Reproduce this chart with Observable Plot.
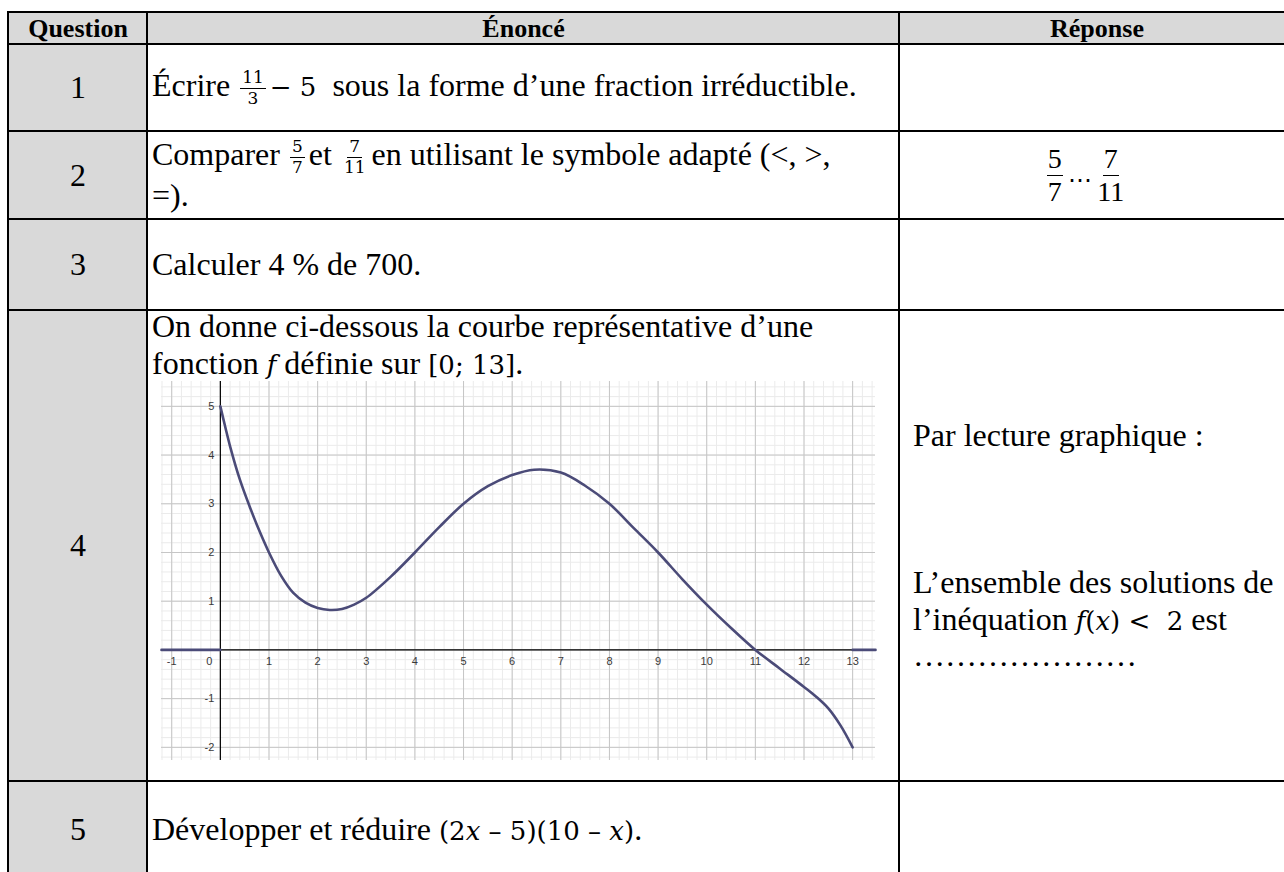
<!DOCTYPE html>
<html><head><meta charset="utf-8">
<script src="https://cdn.jsdelivr.net/npm/d3@7"></script>
<script src="https://cdn.jsdelivr.net/npm/@observablehq/plot@0.6"></script>
<style>
html,body{margin:0;padding:0;background:#fff;}
#page{position:relative;width:1284px;height:872px;overflow:hidden;font-family:"Liberation Serif","Times New Roman",serif;color:#000;}
.hl{position:absolute;height:2px;background:#000;left:7px;width:1300px;}
.vl{position:absolute;width:2px;background:#000;top:11px;height:900px;}
.bg{position:absolute;background:#d9d9d9;}
.cell{position:absolute;display:flex;align-items:center;font-size:32px;line-height:1.15;white-space:nowrap;}
.hdr{font-weight:bold;font-size:26px;justify-content:center;line-height:1;}
.ctr{justify-content:center;}
.frac{display:inline-flex;flex-direction:column;align-items:center;vertical-align:middle;font-family:"DejaVu Serif",serif;font-size:17px;line-height:1.05;margin:0 4px 0 2px;}
.frac .n{padding:0 2px 1px;border-bottom:1.5px solid #000;}
.frac .d{padding:1px 2px 0;}
.frac2{display:inline-flex;flex-direction:column;align-items:center;vertical-align:middle;font-size:28px;line-height:1.05;}
.frac2 .n{padding:0 1px 1px;border-bottom:1.5px solid #000;}
.frac2 .d{padding:1px 1px 0;}
.m{font-family:"DejaVu Serif",serif;font-size:26px;}
.mi{font-family:"DejaVu Serif",serif;font-style:italic;font-size:26px;}
#chart{position:absolute;left:161px;top:381px;}
</style></head><body><div id="page">
<div class="bg" style="left:8px;top:12px;width:1300px;height:32px"></div>
<div class="bg" style="left:8px;top:44px;width:139px;height:840px"></div>

<div class="cell hdr" style="left:9px;top:13px;width:138px;height:31px">Question</div>
<div class="cell hdr" style="left:148px;top:13px;width:751px;height:31px">Énoncé</div>
<div class="cell hdr" style="left:900px;top:13px;width:394px;height:31px">Réponse</div>

<div class="cell ctr" style="left:9px;top:44px;width:138px;height:87px">1</div>
<div class="cell ctr" style="left:9px;top:131px;width:138px;height:88px">2</div>
<div class="cell ctr" style="left:9px;top:219px;width:138px;height:91px">3</div>
<div class="cell ctr" style="left:9px;top:310px;width:138px;height:471px">4</div>
<div class="cell ctr" style="left:9px;top:781px;width:138px;height:96px">5</div>

<div class="cell" style="left:152px;top:44px;width:745px;height:87px"><div>Écrire <span class="frac"><span class="n">11</span><span class="d">3</span></span><span class="m">−&nbsp;5</span>&nbsp;&nbsp;sous la forme d’une fraction irréductible.</div></div>
<div class="cell" style="left:152px;top:131px;width:745px;height:88px"><div>Comparer <span class="frac"><span class="n">5</span><span class="d">7</span></span>et <span class="frac"><span class="n">7</span><span class="d">11</span></span>en utilisant le symbole adapté (&lt;, &gt;,<br>=).</div></div>
<div class="cell" style="left:152px;top:219px;width:745px;height:91px"><div>Calculer 4 % de 700.</div></div>
<div class="cell" style="left:152px;top:308px;width:745px;height:74px;align-items:flex-start"><div>On donne ci-dessous la courbe représentative d’une<br>fonction <span class="mi">f</span> définie sur <span class="m">[0;&nbsp;13]</span>.</div></div>
<div class="cell" style="left:152px;top:781px;width:745px;height:96px"><div>Développer et réduire <span class="m">(2<span class="mi">x</span> – 5)(10 – <span class="mi">x</span>)</span>.</div></div>

<div class="cell ctr" style="left:900px;top:131px;width:372px;height:88px"><div><span class="frac2"><span class="n">5</span><span class="d">7</span></span><span style="font-size:24px;position:relative;top:6px">&thinsp;⋯&thinsp;</span><span class="frac2"><span class="n">7</span><span class="d">11</span></span></div></div>
<div class="cell" style="left:913px;top:310px;width:380px;height:471px"><div>Par lecture graphique :<br><br><br><br>L’ensemble des solutions de<br>l’inéquation <span class="mi">f</span><span class="m">(</span><span class="mi">x</span><span class="m">)&nbsp;&lt;&nbsp; 2</span> est<br>…………………</div></div>

<div class="hl" style="top:11px"></div>
<div class="hl" style="top:43px"></div>
<div class="hl" style="top:130px"></div>
<div class="hl" style="top:218px"></div>
<div class="hl" style="top:309px"></div>
<div class="hl" style="top:780px"></div>
<div class="vl" style="left:7px"></div>
<div class="vl" style="left:146px"></div>
<div class="vl" style="left:898px"></div>
<div id="chart"></div>
</div>
<script>
// Curve of f
const curveX = [0, 0.1, 0.2, 0.4, 0.6, 0.8, 1, 1.25, 1.5, 1.75, 2, 2.25, 2.5, 2.75, 3, 3.5, 4, 4.5, 5, 5.5, 6, 6.45, 7, 7.5, 8, 8.5, 9, 9.5, 10, 10.5, 11, 11.5, 12, 12.25, 12.5, 12.75, 13];
const curveY = [5, 4.58, 4.18, 3.5, 2.95, 2.45, 2, 1.52, 1.17, 0.97, 0.86, 0.82, 0.84, 0.93, 1.07, 1.5, 2, 2.52, 3, 3.36, 3.59, 3.7, 3.64, 3.37, 3, 2.5, 2, 1.45, 0.93, 0.45, 0, -0.38, -0.76, -0.96, -1.2, -1.55, -2];
// horizontal pieces at y = 0 outside [0; 13]
const leftStubX = [-1.21, 0];
const rightStubX = [13, 13.47];
const stubY = [0, 0];
// axis tick labels
const xTickLabels = [-1, 1, 2, 3, 4, 5, 6, 7, 8, 9, 10, 11, 12, 13];
const yTickLabels = [-2, -1, 1, 2, 3, 4, 5];
const originLabel = [0];

const xDomain = [-1.21, 13.47];
const yDomain = [-2.27, 5.51];
const majorX = d3.range(-1, 14, 1);
const majorY = d3.range(-2, 6, 1);
const minorX = d3.range(-1.2, 13.5, 0.2).map(v => +v.toFixed(1));
const minorY = d3.range(-2.2, 5.6, 0.2).map(v => +v.toFixed(1));

const curve = curveX.map((x, i) => ({x, y: curveY[i]}));
const leftStub = leftStubX.map((x, i) => ({x, y: stubY[i]}));
const rightStub = rightStubX.map((x, i) => ({x, y: stubY[i]}));
const lineColor = "#4b4b78";
const labelFont = "Liberation Sans, Arial, sans-serif";

const chart = Plot.plot({
  width: 714,
  height: 379,
  margin: 0,
  x: {domain: xDomain, axis: null},
  y: {domain: yDomain, axis: null},
  style: {background: "white", overflow: "visible"},
  marks: [
    Plot.ruleX(minorX, {stroke: "#ebebeb", strokeWidth: 1}),
    Plot.ruleY(minorY, {stroke: "#ebebeb", strokeWidth: 1}),
    Plot.ruleX(majorX, {stroke: "#c6c6c6", strokeWidth: 1}),
    Plot.ruleY(majorY, {stroke: "#c6c6c6", strokeWidth: 1}),
    Plot.ruleX([0], {stroke: "#000", strokeWidth: 1.2}),
    Plot.ruleY([0], {stroke: "#000", strokeWidth: 1.2}),
    Plot.text(xTickLabels, {x: d => d, y: 0, dy: 12, text: d => String(d), fontSize: 11, fill: "#3a3a3a", fontFamily: labelFont}),
    Plot.text(originLabel, {x: d => d, y: 0, dy: 12, dx: -11, text: d => String(d), fontSize: 11, fill: "#3a3a3a", fontFamily: labelFont}),
    Plot.text(yTickLabels, {x: 0, y: d => d, dx: -6, textAnchor: "end", text: d => String(d), fontSize: 11, fill: "#3a3a3a", fontFamily: labelFont}),
    Plot.line(leftStub, {x: "x", y: "y", stroke: lineColor, strokeWidth: 2.6}),
    Plot.line(rightStub, {x: "x", y: "y", stroke: lineColor, strokeWidth: 2.6}),
    Plot.line(curve, {x: "x", y: "y", stroke: lineColor, strokeWidth: 2.6, curve: "catmull-rom"})
  ]
});
document.getElementById("chart").appendChild(chart);
</script>
</body></html>
